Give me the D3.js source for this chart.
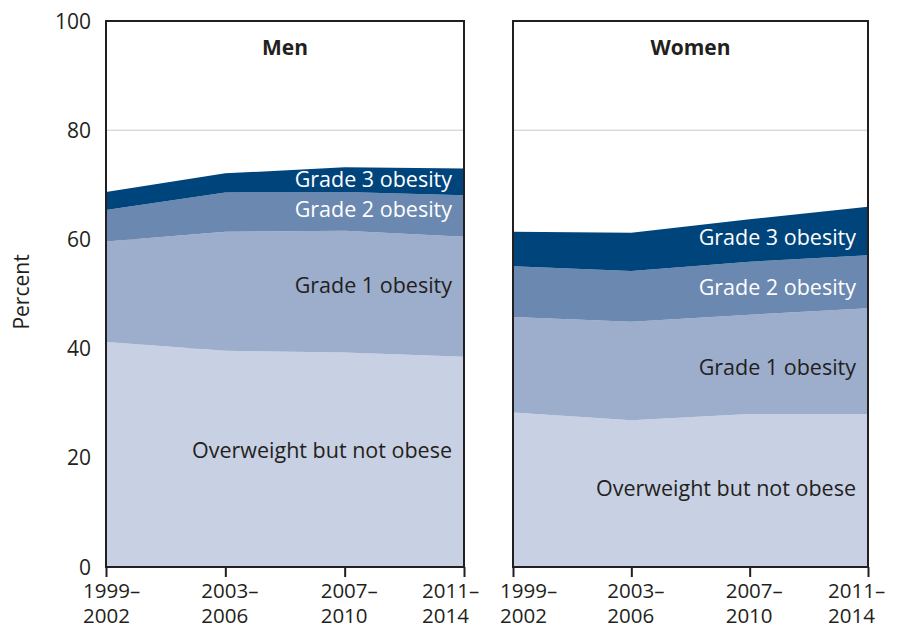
<!DOCTYPE html>
<html>
<head>
<meta charset="utf-8">
<script src="https://cdn.jsdelivr.net/npm/d3@7"></script>
<style>
  body { margin: 0; background: #fff; }
  text { font-family: "Open Sans", sans-serif; }
</style>
</head>
<body>
<svg id="chart"></svg>
<script>
//Data
const periods = ["1999–2002", "2003–2006", "2007–2010", "2011–2014"];
const categories = ["Overweight but not obese", "Grade 1 obesity", "Grade 2 obesity", "Grade 3 obesity"];
const colors = ["#c8d0e3", "#9dadcc", "#6a88b0", "#00447c"];

//Men (percent of each category)
const menOverweight = [41.2, 39.6, 39.3, 38.5];
const menGrade1 = [18.4, 21.8, 22.3, 22.0];
const menGrade2 = [5.8, 7.2, 7.1, 7.6];
const menGrade3 = [3.3, 3.5, 4.5, 4.9];

//Women
const womenOverweight = [28.3, 26.9, 28.0, 28.0];
const womenGrade1 = [17.5, 18.0, 18.2, 19.4];
const womenGrade2 = [9.3, 9.3, 9.7, 9.7];
const womenGrade3 = [6.3, 7.0, 7.8, 8.9];

const yTicks = [0, 20, 40, 60, 80, 100];

const width = 902;
const height = 628;
const plotTop = 21, plotBottom = 567;

const svg = d3.select("#chart").attr("width", width).attr("height", height);

const y = d3.scaleLinear().domain([0, 100]).range([plotBottom, plotTop]);

const panels = [
  { title: "Men", x0: 106, x1: 464,
    tickShift: [-23, -24, -24, -42],
    series: [menOverweight, menGrade1, menGrade2, menGrade3],
    labels: [
      { c: 0, x: 452, y: 458, fill: "#231f20" },
      { c: 1, x: 452, y: 293, fill: "#231f20" },
      { c: 2, x: 452, y: 217, fill: "#fff" },
      { c: 3, x: 452, y: 187, fill: "#fff" }
    ] },
  { title: "Women", x0: 513, x1: 868,
    tickShift: [-13, -24, -24, -40],
    series: [womenOverweight, womenGrade1, womenGrade2, womenGrade3],
    labels: [
      { c: 0, x: 856, y: 496, fill: "#231f20" },
      { c: 1, x: 856, y: 375, fill: "#231f20" },
      { c: 2, x: 856, y: 295, fill: "#fff" },
      { c: 3, x: 856, y: 245, fill: "#fff" }
    ] }
];

panels.forEach((p, pi) => {
  const x = d3.scalePoint().domain(periods).range([p.x0, p.x1]);

  //Build a table for the stack
  const table = periods.map((per, i) => {
    const row = { period: per };
    categories.forEach((c, k) => row[c] = p.series[k][i]);
    return row;
  });
  const stacked = d3.stack().keys(categories)(table);

  const g = svg.append("g");

  //Gridlines
  g.selectAll(".grid")
    .data(yTicks.filter(d => d > 0 && d < 100))
    .enter()
    .append("line")
    .attr("x1", p.x0).attr("x2", p.x1)
    .attr("y1", d => y(d)).attr("y2", d => y(d))
    .attr("stroke", "#c8c8c8")
    .attr("stroke-width", 1);

  const area = d3.area()
    .x(d => x(d.data.period))
    .y0(d => y(d[0]))
    .y1(d => y(d[1]));

  g.selectAll(".layer")
    .data(stacked)
    .enter()
    .append("path")
    .attr("d", area)
    .attr("fill", (d, i) => colors[i]);

  //Frame
  g.append("rect")
    .attr("x", p.x0).attr("y", plotTop)
    .attr("width", p.x1 - p.x0).attr("height", plotBottom - plotTop)
    .attr("fill", "none")
    .attr("stroke", "#231f20")
    .attr("stroke-width", 2);

  //X axis
  const xAxis = g.append("g")
    .attr("transform", `translate(0,${plotBottom})`)
    .call(d3.axisBottom(x).tickSize(10).tickFormat(""));
  xAxis.select(".domain").remove();
  xAxis.selectAll("line").attr("stroke", "#231f20").attr("stroke-width", 2);

  //Two-line tick labels, left aligned and nudged to fit
  periods.forEach((per, i) => {
    const parts = per.split("–");
    const lx = x(per) + p.tickShift[i];
    g.append("text")
      .attr("x", lx).attr("y", 598)
      .attr("font-size", 20.5)
      .attr("fill", "#231f20")
      .text(parts[0] + "–");
    g.append("text")
      .attr("x", lx).attr("y", 623)
      .attr("font-size", 20.5)
      .attr("fill", "#231f20")
      .text(parts[1]);
  });

  //Title
  g.append("text")
    .attr("x", (p.x0 + p.x1) / 2)
    .attr("y", 55)
    .attr("text-anchor", "middle")
    .attr("font-size", 21)
    .attr("font-weight", "bold")
    .attr("fill", "#231f20")
    .text(p.title);

  //Category labels
  g.selectAll(".cat-label")
    .data(p.labels)
    .enter()
    .append("text")
    .attr("x", d => d.x)
    .attr("y", d => d.y)
    .attr("text-anchor", "end")
    .attr("font-size", 21.5)
    .attr("fill", d => d.fill)
    .text(d => categories[d.c]);

  //Y axis labels on the left panel only
  if (pi === 0) {
    g.selectAll(".ylab")
      .data(yTicks)
      .enter()
      .append("text")
      .attr("x", 91)
      .attr("y", d => y(d) + 7.5)
      .attr("text-anchor", "end")
      .attr("font-size", 21)
      .attr("fill", "#231f20")
      .text(d => d);
  }
});

//Y axis title
svg.append("text")
  .attr("transform", "translate(29,292) rotate(-90)")
  .attr("text-anchor", "middle")
  .attr("font-size", 21)
  .attr("fill", "#231f20")
  .text("Percent");
</script>
</body>
</html>
